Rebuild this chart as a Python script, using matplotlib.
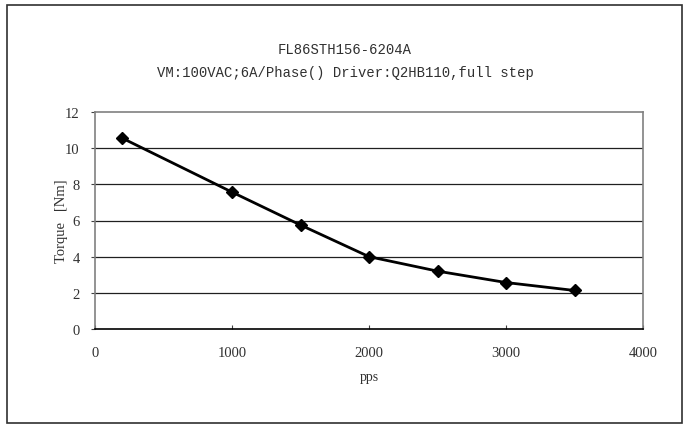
import matplotlib
matplotlib.use("Agg")
import matplotlib.pyplot as plt
from matplotlib.patches import Rectangle

# data
pps = [200, 1000, 1500, 2000, 2500, 3000, 3500]
torque = [10.55, 7.57, 5.75, 4.0, 3.2, 2.57, 2.13]
x_ticks = [0, 1000, 2000, 3000, 4000]
y_ticks = [0, 2, 4, 6, 8, 10, 12]
title1 = "FL86STH156-6204A"
title2 = "VM:100VAC;6A/Phase() Driver:Q2HB110,full step"

fig = plt.figure(figsize=(6.9, 4.31), dpi=100, facecolor="white")

# outer frame round the whole chart
fig.patches.append(Rectangle((0.010, 0.016), 0.978, 0.970, transform=fig.transFigure,
                             fill=False, edgecolor="#303030", linewidth=1.2))

# plot area: x 95..643 px, y 113..330 px
ax = fig.add_axes([95 / 690, 1 - 330 / 431, (643 - 95) / 690, (330 - 113) / 431])
ax.set_xlim(0, 4000)
ax.set_ylim(0, 12)
ax.set_xticks(x_ticks)
ax.set_yticks(y_ticks)

for y in y_ticks[1:-1]:
    ax.axhline(y, color="#202020", linewidth=0.9, zorder=1)

ax.plot(pps, torque, color="black", linewidth=2.0, marker="D", markersize=6.5,
        markerfacecolor="black", markeredgecolor="black", zorder=3)

for side in ["top", "right", "left"]:
    ax.spines[side].set_color("#808080")
    ax.spines[side].set_linewidth(1.2)
ax.spines["bottom"].set_color("black")
ax.spines["bottom"].set_linewidth(1.2)

ax.tick_params(axis="x", direction="in", length=3, color="#404040", pad=12,
               labelsize=10.5, labelcolor="#303030")
ax.tick_params(axis="y", direction="out", length=3, color="#404040", pad=8,
               labelsize=10.5, labelcolor="#303030")
for lbl in ax.get_xticklabels() + ax.get_yticklabels():
    lbl.set_family("Liberation Serif")

ax.set_xlabel("pps", family="Liberation Serif", fontsize=10, labelpad=8, color="#303030")
ax.set_ylabel("Torque   [Nm]", family="Liberation Serif", fontsize=10.5, labelpad=-2,
              color="#303030")

fig.text(345 / 690, 1 - 50 / 431, title1, ha="center", va="center",
         family="Liberation Mono", fontsize=10, color="#303030")
fig.text(345 / 690, 1 - 73 / 431, title2, ha="center", va="center",
         family="Liberation Mono", fontsize=10, color="#303030")

fig.savefig("out.png", dpi=100, facecolor="white")
